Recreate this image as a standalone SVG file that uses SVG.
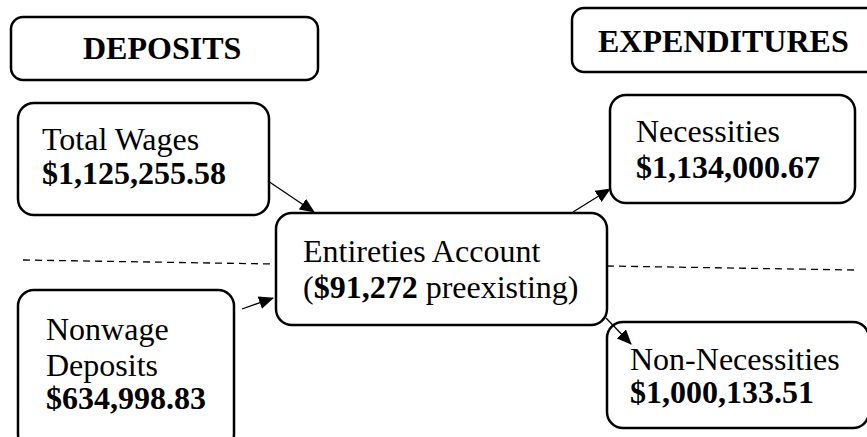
<svg xmlns="http://www.w3.org/2000/svg" width="867" height="437" viewBox="0 0 867 437">
<style>
.box{fill:#fff;stroke:#000;stroke-width:2.5}
.t{font-family:"Liberation Serif","Times New Roman",serif;font-size:32px;fill:#000}
.b{font-weight:bold}
.dash{stroke:#000;stroke-width:1.3;stroke-dasharray:7,5;fill:none}
.conn{stroke:#000;stroke-width:1.3;fill:none;marker-end:url(#ah)}
</style>
<defs>
<marker id="ah" markerWidth="15" markerHeight="13" refX="14" refY="6.5" orient="auto" markerUnits="userSpaceOnUse">
<path d="M0,0 L15,6.5 L0,13 Z" fill="#000"/>
</marker>
</defs>
<rect width="867" height="437" fill="#fff"/>
<g id="dividers">
<line class="dash" x1="23" y1="260" x2="274" y2="264"/>
<line class="dash" x1="607" y1="266" x2="854" y2="270"/>
</g>
<g id="deposits-header">
<rect class="box" x="11" y="17" width="307" height="63" rx="12"/>
<text class="t b" x="83" y="59">DEPOSITS</text>
</g>
<g id="expenditures-header">
<rect class="box" x="572" y="8" width="310" height="64" rx="12"/>
<text class="t b" x="598" y="52">EXPENDITURES</text>
</g>
<g id="total-wages">
<rect class="box" x="18" y="103" width="251" height="112" rx="16"/>
<text class="t" x="42" y="150">Total Wages</text>
<text class="t b" x="42" y="184">$1,125,255.58</text>
</g>
<g id="necessities">
<rect class="box" x="610" y="95" width="245" height="108" rx="16"/>
<text class="t" x="636" y="142">Necessities</text>
<text class="t b" x="636" y="178">$1,134,000.67</text>
</g>
<g id="entireties">
<rect class="box" x="276" y="213" width="331" height="112" rx="16"/>
<text class="t" x="303" y="262">Entireties Account</text>
<text class="t" x="303" y="298">(<tspan class="b">$91,272</tspan> preexisting)</text>
</g>
<g id="nonwage">
<rect class="box" x="18" y="290" width="216" height="160" rx="16"/>
<text class="t" x="46" y="340">Nonwage</text>
<text class="t" x="46" y="376">Deposits</text>
<text class="t b" x="46" y="409">$634,998.83</text>
</g>
<g id="non-necessities">
<rect class="box" x="607" y="322" width="262" height="106" rx="16"/>
<text class="t" x="630" y="370">Non-Necessities</text>
<text class="t b" x="630" y="403">$1,000,133.51</text>
</g>
<g id="connectors">
<line class="conn" x1="268" y1="181" x2="314" y2="212"/>
<line class="conn" x1="573" y1="212" x2="610" y2="189"/>
<line class="conn" x1="242" y1="309" x2="273" y2="298"/>
<line class="conn" x1="606" y1="318" x2="631" y2="344"/>
</g>
</svg>
